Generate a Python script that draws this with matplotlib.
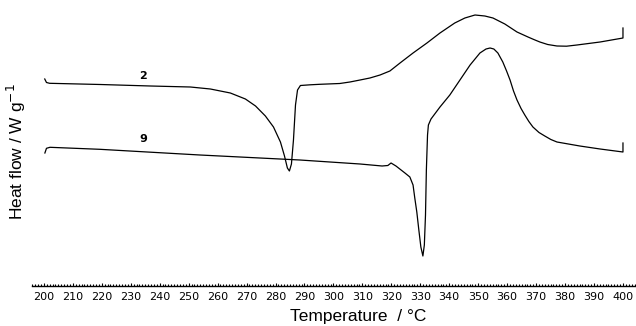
import numpy as np
import matplotlib.pyplot as plt
from matplotlib.ticker import MultipleLocator

# DSC curves (heat flow in arbitrary units, no y scale shown)
temp_2 = [200.3, 200.9, 202.0, 219.5, 236.8, 250.6, 257.5, 264.4, 269.6, 273.1,
          276.5, 279.3, 281.7, 283.1, 284.1, 284.8, 285.5, 286.2, 286.9, 287.6,
          288.6, 292.0, 295.3, 302.2, 305.7, 309.2, 312.6, 316.1, 319.5, 323.0,
          327.5, 332.3, 336.8, 341.9, 345.4, 348.9, 352.3, 355.1, 359.2, 361.3,
          363.4, 365.3, 367.2, 369.2, 371.3, 374.0, 377.2, 380.5, 384.1, 392.1,
          400.0, 400.0]
hf_2 = [2.07, 2.035, 2.027, 2.015, 2.00, 1.99, 1.97, 1.93, 1.87, 1.80,
        1.70, 1.59, 1.44, 1.30, 1.18, 1.15, 1.22, 1.46, 1.81, 1.96,
        2.005, 2.012, 2.017, 2.025, 2.04, 2.06, 2.08, 2.11, 2.15, 2.23,
        2.33, 2.43, 2.53, 2.63, 2.68, 2.71, 2.70, 2.68, 2.62, 2.58,
        2.54, 2.515, 2.49, 2.465, 2.44, 2.415, 2.40, 2.398, 2.41, 2.44,
        2.48, 2.58]

temp_9 = [200.35, 200.9, 202.1, 219.3, 253.9, 288.4, 309.2, 316.8, 318.8, 319.9,
          321.6, 324.7, 326.4, 327.5, 328.1, 328.8, 329.5, 330.2, 330.9, 331.4,
          331.8, 332.1, 332.5, 332.8, 333.7, 336.8, 340.2, 343.7, 347.2, 350.6,
          352.7, 354.1, 355.4, 356.8, 358.5, 359.8, 361.0, 362.2, 363.4, 364.8,
          366.1, 367.5, 368.9, 371.0, 373.0, 375.1, 377.2, 385.1, 392.1, 400.0,
          400.0]
hf_9 = [1.33, 1.377, 1.387, 1.367, 1.31, 1.26, 1.22, 1.20, 1.205, 1.23,
        1.20, 1.13, 1.09, 1.01, 0.88, 0.74, 0.56, 0.39, 0.30, 0.41,
        0.71, 1.16, 1.51, 1.61, 1.67, 1.79, 1.91, 2.06, 2.21, 2.33,
        2.37, 2.38, 2.37, 2.33, 2.24, 2.15, 2.06, 1.95, 1.86, 1.775,
        1.71, 1.645, 1.59, 1.535, 1.50, 1.465, 1.44, 1.40, 1.37, 1.34,
        1.43]

curve_labels = ["2", "9"]
label_pos = [(234.2, 2.10), (234.2, 1.47)]

fig = plt.figure(figsize=(6.36, 3.26), dpi=100)
ax = fig.add_axes([32 / 636, 40 / 326, 604 / 636, 286 / 326])

ax.plot(temp_2, hf_2, color="black", lw=0.9)
ax.plot(temp_9, hf_9, color="black", lw=0.9)
for lab, (x, y) in zip(curve_labels, label_pos):
    ax.text(x, y, lab, fontsize=8, fontweight="bold", ha="center", va="center")

ax.set_xlim(195.9, 404.5)
ax.set_ylim(0, 2.86)

for s in ["left", "right", "top"]:
    ax.spines[s].set_visible(False)
ax.spines["bottom"].set_linewidth(1.0)
ax.set_yticks([])

ax.xaxis.set_major_locator(MultipleLocator(10))
ax.xaxis.set_minor_locator(MultipleLocator(1))
ax.tick_params(axis="x", which="both", direction="in", width=0.8)
ax.tick_params(axis="x", which="major", length=2.5, labelsize=8, pad=4)
ax.tick_params(axis="x", which="minor", length=1.8)

ax.set_xlabel("Temperature  / °C", fontsize=12.5, family="Liberation Sans")
ax.xaxis.set_label_coords(0.54, -0.082)
ax.set_ylabel("Heat flow / W g$^{-1}$", fontsize=12.5, family="Liberation Sans")
ax.yaxis.set_label_coords(-0.006, 0.47)

plt.savefig("out.png", dpi=100)
